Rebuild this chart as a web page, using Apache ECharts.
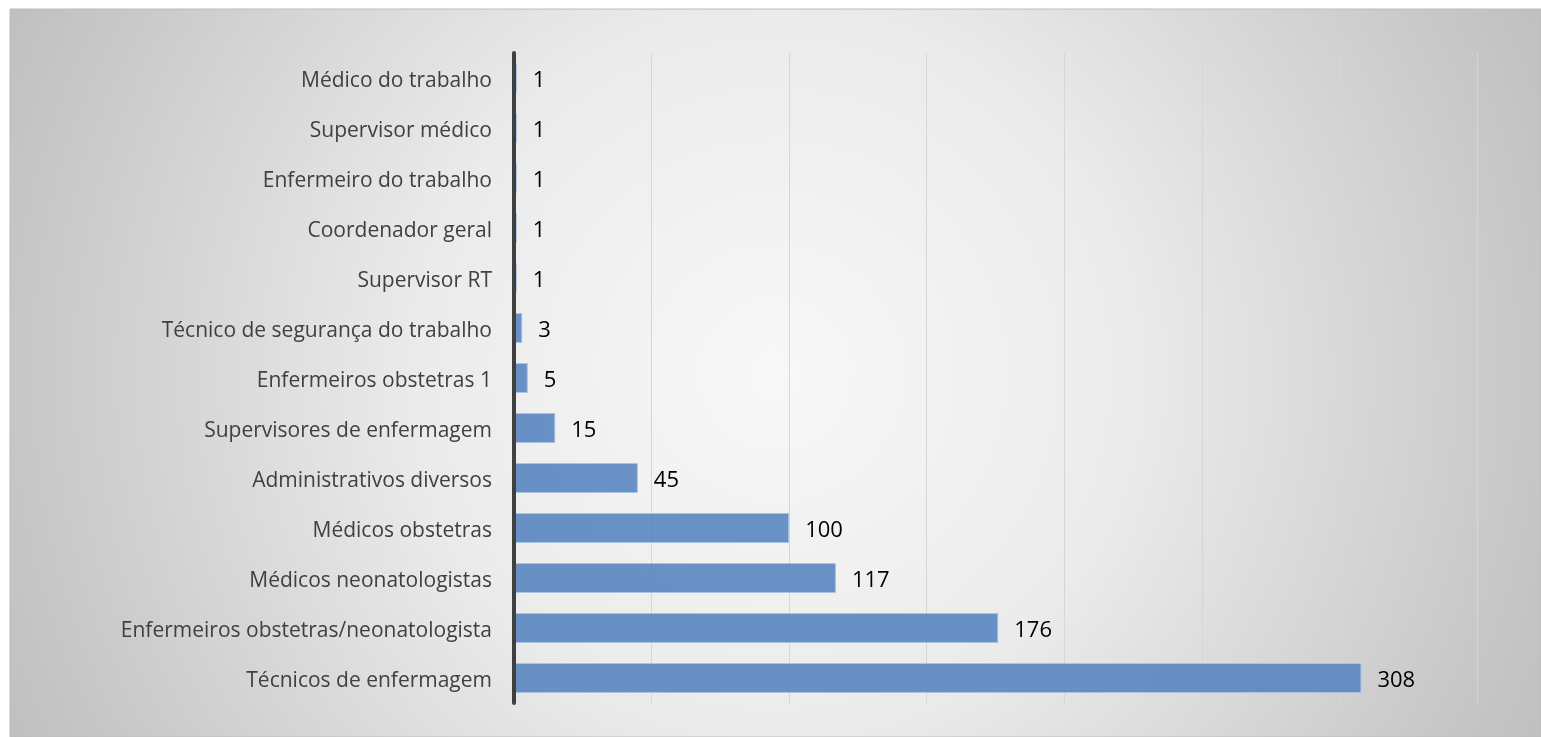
<!DOCTYPE html>
<html>
<head>
<meta charset="utf-8">
<style>
html,body{margin:0;padding:0;background:#fff;}
#chart{width:1541px;height:737px;}
</style>
<script src="https://cdn.jsdelivr.net/npm/echarts@6/dist/echarts.min.js"></script>
</head>
<body>
<div id="chart"></div>
<script>
const categories = [
  "Médico do trabalho",
  "Supervisor médico",
  "Enfermeiro do trabalho",
  "Coordenador geral",
  "Supervisor RT",
  "Técnico de segurança do trabalho",
  "Enfermeiros obstetras 1",
  "Supervisores de enfermagem",
  "Administrativos diversos",
  "Médicos obstetras",
  "Médicos neonatologistas",
  "Enfermeiros obstetras/neonatologista",
  "Técnicos de enfermagem"
];
const values = [1, 1, 1, 1, 1, 3, 5, 15, 45, 100, 117, 176, 308];

const chart = echarts.init(document.getElementById('chart'), null, {renderer: 'canvas'});
chart.setOption({
  animation: false,
  graphic: [{
    type: 'rect',
    z: -10,
    silent: true,
    shape: {x: 10, y: 9, width: 1531, height: 728},
    style: {
      fill: new echarts.graphic.RadialGradient(0.5, 0.5, 1.17, [
        {offset: 0, color: '#f8f8f8'},
        {offset: 0.42, color: '#ebebeb'},
        {offset: 0.9, color: '#c6c6c6'},
        {offset: 1, color: '#bfbfbf'}
      ]),
      stroke: '#bcbcbc',
      lineWidth: 1
    }
  }],
  grid: {left: 514, right: 64, top: 53, bottom: 34, containLabel: false},
  xAxis: {
    type: 'value',
    min: 0,
    max: 350,
    interval: 50,
    axisLabel: {show: false},
    axisTick: {show: false},
    axisLine: {show: false},
    splitLine: {show: true, lineStyle: {color: '#d6d6d6', width: 1}}
  },
  yAxis: {
    type: 'category',
    inverse: true,
    z: 5,
    data: categories,
    axisLine: {show: true, onZero: false, lineStyle: {color: '#404040', width: 4}},
    axisTick: {show: false},
    axisLabel: {
      color: '#404040',
      fontFamily: 'Open Sans',
      fontSize: 21,
      margin: 22,
      formatter: function (v) { return '{a|' + v + '}'; },
      rich: {
        a: {
          color: '#404040',
          fontFamily: 'Open Sans',
          fontSize: 21,
          padding: [6, 0, 0, 0]
        }
      }
    }
  },
  series: [{
    type: 'bar',
    data: values,
    barCategoryGap: '40%',
    itemStyle: {
      color: 'rgba(86,131,190,0.88)',
      borderColor: '#a8c3e4',
      borderWidth: 1
    },
    label: {
      show: true,
      position: 'right',
      distance: 16,
      offset: [0, 3],
      color: '#000',
      fontFamily: 'Open Sans',
      fontSize: 22
    }
  }]
});
</script>
</body>
</html>
